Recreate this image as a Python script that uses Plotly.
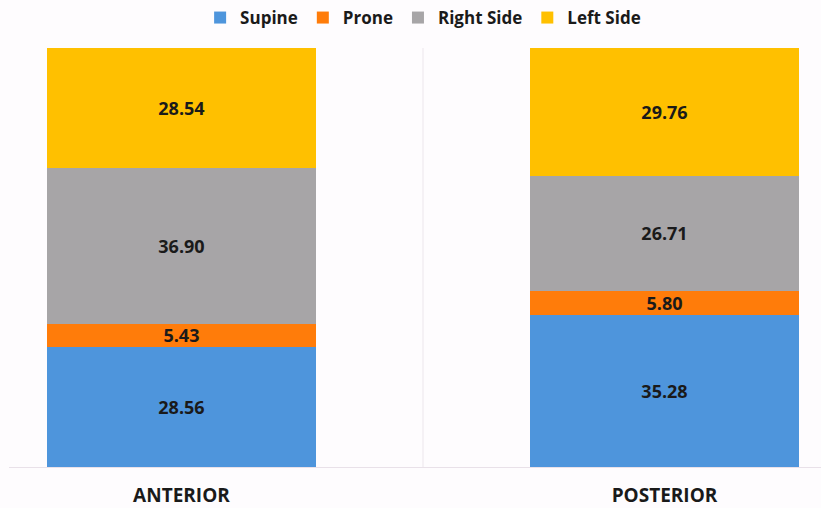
import plotly.graph_objects as go

categories = ["ANTERIOR", "POSTERIOR"]
series_names = ["Supine", "Prone", "Right Side", "Left Side"]
supine = [28.56, 35.28]
prone = [5.43, 5.80]
right_side = [36.90, 26.71]
left_side = [28.54, 29.76]
colors = ["#4E95DC", "#FF7C0A", "#A7A5A7", "#FFC000"]

series_values = [supine, prone, right_side, left_side]
xpos = list(range(len(categories)))

fig = go.Figure()
for name, vals, col in zip(series_names, series_values, colors):
    fig.add_trace(go.Bar(
        x=xpos, y=vals, name=name, width=0.557,
        marker=dict(color=col, line=dict(width=0)),
        text=[f"{v:.2f}" for v in vals], textposition="inside",
        insidetextanchor="middle", constraintext="none",
        textfont=dict(family="Open Sans", size=18, color="#1a1a1a", weight="bold"),
        hoverinfo="skip",
    ))

fig.add_shape(type="line", xref="x", yref="y", x0=0.5, x1=0.5, y0=0, y1=100,
              line=dict(color="#ECE6EC", width=1), layer="below")

fig.update_layout(
    width=821, height=508,
    margin=dict(l=9, r=0, t=48, b=41),
    barmode="stack", barnorm="percent",
    paper_bgcolor="#FEFCFE", plot_bgcolor="#FEFCFE",
    showlegend=True,
    legend=dict(orientation="h", x=0.51, xanchor="center", y=1.0716, yanchor="middle",
                font=dict(family="Open Sans", size=17, color="#1a1a1a", weight="bold"),
                itemwidth=30, traceorder="normal", bgcolor="rgba(0,0,0,0)"),
    xaxis=dict(range=[-0.357, 1.324], tickvals=xpos, ticktext=categories,
               showgrid=False, zeroline=False, showline=True, linecolor="#E9E1E9", linewidth=1,
               ticks="outside", ticklen=11, tickcolor="rgba(0,0,0,0)",
               tickfont=dict(family="Open Sans", size=19, color="#1a1a1a", weight="bold"),
               fixedrange=True),
    yaxis=dict(range=[0, 100], visible=False, fixedrange=True),
)

fig.write_html("out.html")
